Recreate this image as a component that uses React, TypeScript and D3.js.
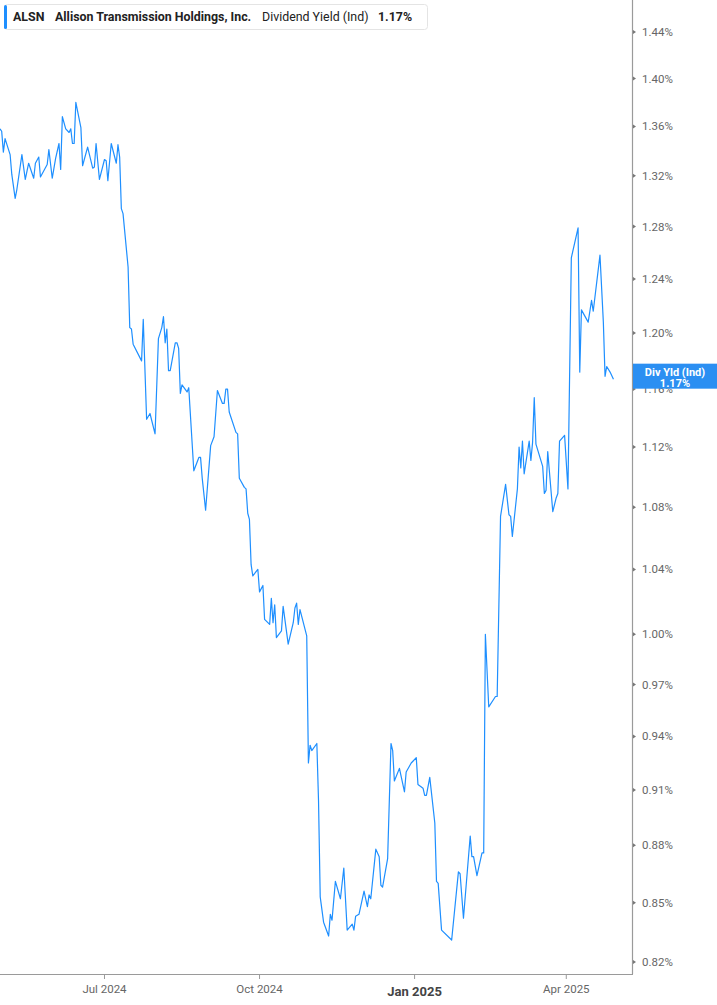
import React, { useEffect, useRef } from 'react'
import * as d3 from 'd3'

// dividend yield (%)
const series: [string, number][] = [
    ["2024-04-30", 1.358], ["2024-05-01", 1.356], ["2024-05-02", 1.339], ["2024-05-03", 1.350], ["2024-05-06", 1.337],
    ["2024-05-07", 1.321], ["2024-05-09", 1.302], ["2024-05-10", 1.309], ["2024-05-13", 1.337], ["2024-05-15", 1.317],
    ["2024-05-17", 1.330], ["2024-05-20", 1.318], ["2024-05-21", 1.330], ["2024-05-23", 1.335], ["2024-05-24", 1.319],
    ["2024-05-28", 1.329], ["2024-05-29", 1.341], ["2024-05-31", 1.318],
    ["2024-06-02", 1.334], ["2024-06-04", 1.346], ["2024-06-05", 1.325], ["2024-06-06", 1.368], ["2024-06-08", 1.358],
    ["2024-06-10", 1.355], ["2024-06-11", 1.358], ["2024-06-12", 1.346], ["2024-06-13", 1.346], ["2024-06-14", 1.380],
    ["2024-06-17", 1.359], ["2024-06-18", 1.328], ["2024-06-21", 1.343], ["2024-06-24", 1.326], ["2024-06-25", 1.327],
    ["2024-06-26", 1.346], ["2024-06-28", 1.317],
    ["2024-07-01", 1.333], ["2024-07-02", 1.332], ["2024-07-03", 1.316], ["2024-07-05", 1.346], ["2024-07-08", 1.330],
    ["2024-07-09", 1.345], ["2024-07-10", 1.335], ["2024-07-11", 1.294], ["2024-07-12", 1.290], ["2024-07-15", 1.249],
    ["2024-07-16", 1.204], ["2024-07-17", 1.203], ["2024-07-18", 1.192], ["2024-07-23", 1.180], ["2024-07-24", 1.210],
    ["2024-07-26", 1.139], ["2024-07-28", 1.143], ["2024-07-31", 1.129],
    ["2024-08-02", 1.196], ["2024-08-04", 1.204], ["2024-08-05", 1.212], ["2024-08-06", 1.193], ["2024-08-07", 1.203],
    ["2024-08-08", 1.173], ["2024-08-09", 1.173], ["2024-08-12", 1.193], ["2024-08-13", 1.193], ["2024-08-14", 1.189],
    ["2024-08-15", 1.157], ["2024-08-16", 1.163], ["2024-08-19", 1.158], ["2024-08-20", 1.161], ["2024-08-23", 1.104],
    ["2024-08-26", 1.113], ["2024-08-27", 1.113], ["2024-08-28", 1.099], ["2024-08-30", 1.078],
    ["2024-09-02", 1.121], ["2024-09-04", 1.127], ["2024-09-06", 1.159], ["2024-09-09", 1.150], ["2024-09-10", 1.150],
    ["2024-09-11", 1.160], ["2024-09-12", 1.160], ["2024-09-13", 1.144], ["2024-09-17", 1.130], ["2024-09-18", 1.129],
    ["2024-09-19", 1.099], ["2024-09-22", 1.093], ["2024-09-23", 1.092], ["2024-09-24", 1.076], ["2024-09-25", 1.072],
    ["2024-09-26", 1.043], ["2024-09-27", 1.036], ["2024-09-30", 1.040],
    ["2024-10-01", 1.026], ["2024-10-03", 1.030], ["2024-10-04", 1.009], ["2024-10-07", 1.006], ["2024-10-08", 1.022],
    ["2024-10-09", 1.007], ["2024-10-10", 1.018], ["2024-10-11", 0.998], ["2024-10-14", 1.002], ["2024-10-15", 1.017],
    ["2024-10-18", 0.994], ["2024-10-21", 1.007], ["2024-10-22", 1.016], ["2024-10-23", 1.019], ["2024-10-24", 1.006],
    ["2024-10-25", 1.015], ["2024-10-29", 0.999], ["2024-10-30", 0.925], ["2024-10-31", 0.935],
    ["2024-11-01", 0.932], ["2024-11-04", 0.936], ["2024-11-05", 0.904], ["2024-11-06", 0.853], ["2024-11-08", 0.840],
    ["2024-11-11", 0.833], ["2024-11-12", 0.844], ["2024-11-13", 0.841], ["2024-11-15", 0.861], ["2024-11-18", 0.852],
    ["2024-11-20", 0.868], ["2024-11-22", 0.836], ["2024-11-25", 0.839], ["2024-11-26", 0.836], ["2024-11-27", 0.843],
    ["2024-11-29", 0.844],
    ["2024-12-02", 0.856], ["2024-12-04", 0.848], ["2024-12-05", 0.854], ["2024-12-06", 0.852], ["2024-12-09", 0.878],
    ["2024-12-11", 0.874], ["2024-12-12", 0.859], ["2024-12-13", 0.858], ["2024-12-16", 0.873], ["2024-12-18", 0.936],
    ["2024-12-19", 0.932], ["2024-12-20", 0.915], ["2024-12-23", 0.922], ["2024-12-26", 0.909], ["2024-12-27", 0.920],
    ["2024-12-30", 0.925], ["2024-12-31", 0.926],
    ["2025-01-02", 0.928], ["2025-01-03", 0.913], ["2025-01-06", 0.911], ["2025-01-07", 0.907], ["2025-01-08", 0.907],
    ["2025-01-10", 0.917], ["2025-01-13", 0.892], ["2025-01-14", 0.861], ["2025-01-15", 0.860], ["2025-01-17", 0.836],
    ["2025-01-23", 0.831], ["2025-01-27", 0.866], ["2025-01-28", 0.865], ["2025-01-30", 0.842],
    ["2025-02-03", 0.885], ["2025-02-04", 0.874], ["2025-02-05", 0.874], ["2025-02-07", 0.864], ["2025-02-10", 0.876],
    ["2025-02-11", 0.876], ["2025-02-12", 1.000], ["2025-02-14", 0.957], ["2025-02-18", 0.963], ["2025-02-19", 0.963],
    ["2025-02-21", 1.074], ["2025-02-24", 1.095], ["2025-02-26", 1.075], ["2025-02-27", 1.074], ["2025-02-28", 1.061],
    ["2025-03-03", 1.092], ["2025-03-04", 1.120], ["2025-03-05", 1.106], ["2025-03-06", 1.124], ["2025-03-07", 1.102],
    ["2025-03-10", 1.124], ["2025-03-11", 1.111], ["2025-03-12", 1.123], ["2025-03-13", 1.154], ["2025-03-14", 1.122],
    ["2025-03-18", 1.107], ["2025-03-19", 1.089], ["2025-03-20", 1.091], ["2025-03-21", 1.117], ["2025-03-24", 1.077],
    ["2025-03-26", 1.086], ["2025-03-27", 1.089], ["2025-03-28", 1.124], ["2025-03-31", 1.128],
    ["2025-04-02", 1.092], ["2025-04-04", 1.256], ["2025-04-08", 1.279], ["2025-04-09", 1.172], ["2025-04-10", 1.217],
    ["2025-04-14", 1.208], ["2025-04-16", 1.224], ["2025-04-17", 1.216], ["2025-04-21", 1.258], ["2025-04-23", 1.208],
    ["2025-04-24", 1.169], ["2025-04-25", 1.176], ["2025-04-27", 1.172], ["2025-04-29", 1.167],
]

const yTicks = [0.82, 0.85, 0.88, 0.91, 0.94, 0.97, 1.00, 1.04, 1.08, 1.12, 1.16, 1.20, 1.24, 1.28, 1.32, 1.36, 1.40, 1.44]
const monthTicks = ["2024-07-01", "2024-10-01", "2025-01-01", "2025-04-01"]
const monthLabels = ["Jul 2024", "Oct 2024", "Jan 2025", "Apr 2025"]
const xWindow = ["2024-04-30", "2025-05-10"]

const ticker = "ALSN"
const company = "Allison Transmission Holdings, Inc."
const metric = "Dividend Yield (Ind)"
const badgeName = "Div Yld (Ind)"

export default function App() {
    const ref = useRef<SVGSVGElement | null>(null)

    const width = 717
    const height = 1005
    const plotRight = 632
    const plotBottom = 974
    const blue = "#1e8fff"

    function draw() {
        var svg = d3.select(ref.current)
        svg.selectAll("*").remove()

        var parse = d3.timeParse("%Y-%m-%d")
        var data = series.map(d => ({ date: parse(d[0]) as Date, value: d[1] }))
        var last = data[data.length - 1]

        var x = d3.scaleTime()
            .domain([parse(xWindow[0]) as Date, parse(xWindow[1]) as Date])
            .range([0, plotRight])
        var y = d3.scaleLog()
            .domain([0.82, 1.44])
            .range([962, 32])

        svg.append("defs").append("clipPath").attr("id", "plot-clip")
            .append("rect")
            .attr("x", 0).attr("y", 0)
            .attr("width", plotRight).attr("height", plotBottom)

        // right axis
        var yAxis = svg.append("g")
        yAxis.append("line")
            .attr("x1", plotRight + 0.5).attr("x2", plotRight + 0.5)
            .attr("y1", 0).attr("y2", plotBottom)
            .attr("stroke", "#9a9a9a").attr("stroke-width", 1.2)
        var yt = yAxis.selectAll("g.tick")
            .data(yTicks)
            .enter().append("g")
            .attr("class", "tick")
            .attr("transform", d => "translate(0," + y(d) + ")")
        yt.append("path")
            .attr("d", "M" + (plotRight + 1) + ",-2L" + (plotRight + 4) + ",0L" + (plotRight + 1) + ",2Z")
            .attr("fill", "#777")
        yt.append("text")
            .attr("x", plotRight + 10)
            .attr("dy", "0.35em")
            .attr("fill", "#666")
            .style("font-size", "11.5px")
            .text(d => d.toFixed(2) + "%")

        // bottom axis
        var xAxis = svg.append("g")
        xAxis.append("line")
            .attr("x1", 0).attr("x2", plotRight + 1)
            .attr("y1", plotBottom + 0.5).attr("y2", plotBottom + 0.5)
            .attr("stroke", "#9a9a9a").attr("stroke-width", 1.2)
        var xt = xAxis.selectAll("g.tick")
            .data(monthTicks)
            .enter().append("g")
            .attr("class", "tick")
            .attr("transform", d => "translate(" + x(parse(d) as Date) + ",0)")
        xt.append("line")
            .attr("y1", plotBottom).attr("y2", plotBottom + 5)
            .attr("stroke", "#9a9a9a")
        xt.append("text")
            .attr("y", (d, i) => i === 2 ? 996 : 993)
            .attr("text-anchor", "middle")
            .attr("fill", (d, i) => i === 2 ? "#444" : "#666")
            .style("font-size", (d, i) => i === 2 ? "13px" : "11.5px")
            .style("font-weight", (d, i) => i === 2 ? "bold" : "normal")
            .text((d, i) => monthLabels[i])

        // yield line
        var line = d3.line<{ date: Date, value: number }>()
            .x(d => x(d.date))
            .y(d => y(d.value))
        svg.append("path")
            .datum(data)
            .attr("clip-path", "url(#plot-clip)")
            .attr("fill", "none")
            .attr("stroke", blue)
            .attr("stroke-width", 1.2)
            .attr("stroke-linejoin", "round")
            .attr("d", line)

        // last value badge
        var by = y(last.value)
        var badge = svg.append("g")
        badge.append("rect")
            .attr("x", plotRight + 1).attr("y", by - 15.5)
            .attr("width", width - plotRight).attr("height", 25)
            .attr("fill", "#2b8ff2")
        badge.append("text")
            .attr("x", 675).attr("y", by - 3)
            .attr("text-anchor", "middle")
            .attr("fill", "#fff")
            .style("font-size", "11px").style("font-weight", "bold")
            .text(badgeName)
        badge.append("text")
            .attr("x", 675).attr("y", by + 7.5)
            .attr("text-anchor", "middle")
            .attr("fill", "#fff")
            .style("font-size", "11px").style("font-weight", "bold")
            .text(last.value.toFixed(2) + "%")

        // header
        var head = svg.append("g")
        head.append("rect")
            .attr("x", 4.5).attr("y", 4.5)
            .attr("width", 423).attr("height", 25)
            .attr("rx", 3)
            .attr("fill", "#fff")
            .attr("stroke", "#e4e4e4")
        head.append("rect")
            .attr("x", 4).attr("y", 5)
            .attr("width", 3).attr("height", 24)
            .attr("rx", 1.5)
            .attr("fill", blue)
        var hy = 21
        head.append("text").attr("x", 13).attr("y", hy)
            .attr("fill", "#222").style("font-size", "12.4px").style("font-weight", "bold")
            .text(ticker)
        head.append("text").attr("x", 55).attr("y", hy)
            .attr("fill", "#222").style("font-size", "12.4px").style("font-weight", "bold")
            .text(company)
        head.append("text").attr("x", 262).attr("y", hy)
            .attr("fill", "#222").style("font-size", "12.4px")
            .text(metric)
        head.append("text").attr("x", 378).attr("y", hy)
            .attr("fill", "#222").style("font-size", "12.4px").style("font-weight", "bold")
            .text(last.value.toFixed(2) + "%")
    }

    useEffect(() => {
        document.body.style.margin = "0"
        draw()
    }, [])

    return (
        <svg ref={ref} width={width} height={height}
            style={{ display: "block", fontFamily: "Roboto, 'Noto Sans', sans-serif", background: "#fff" }} />
    )
}
